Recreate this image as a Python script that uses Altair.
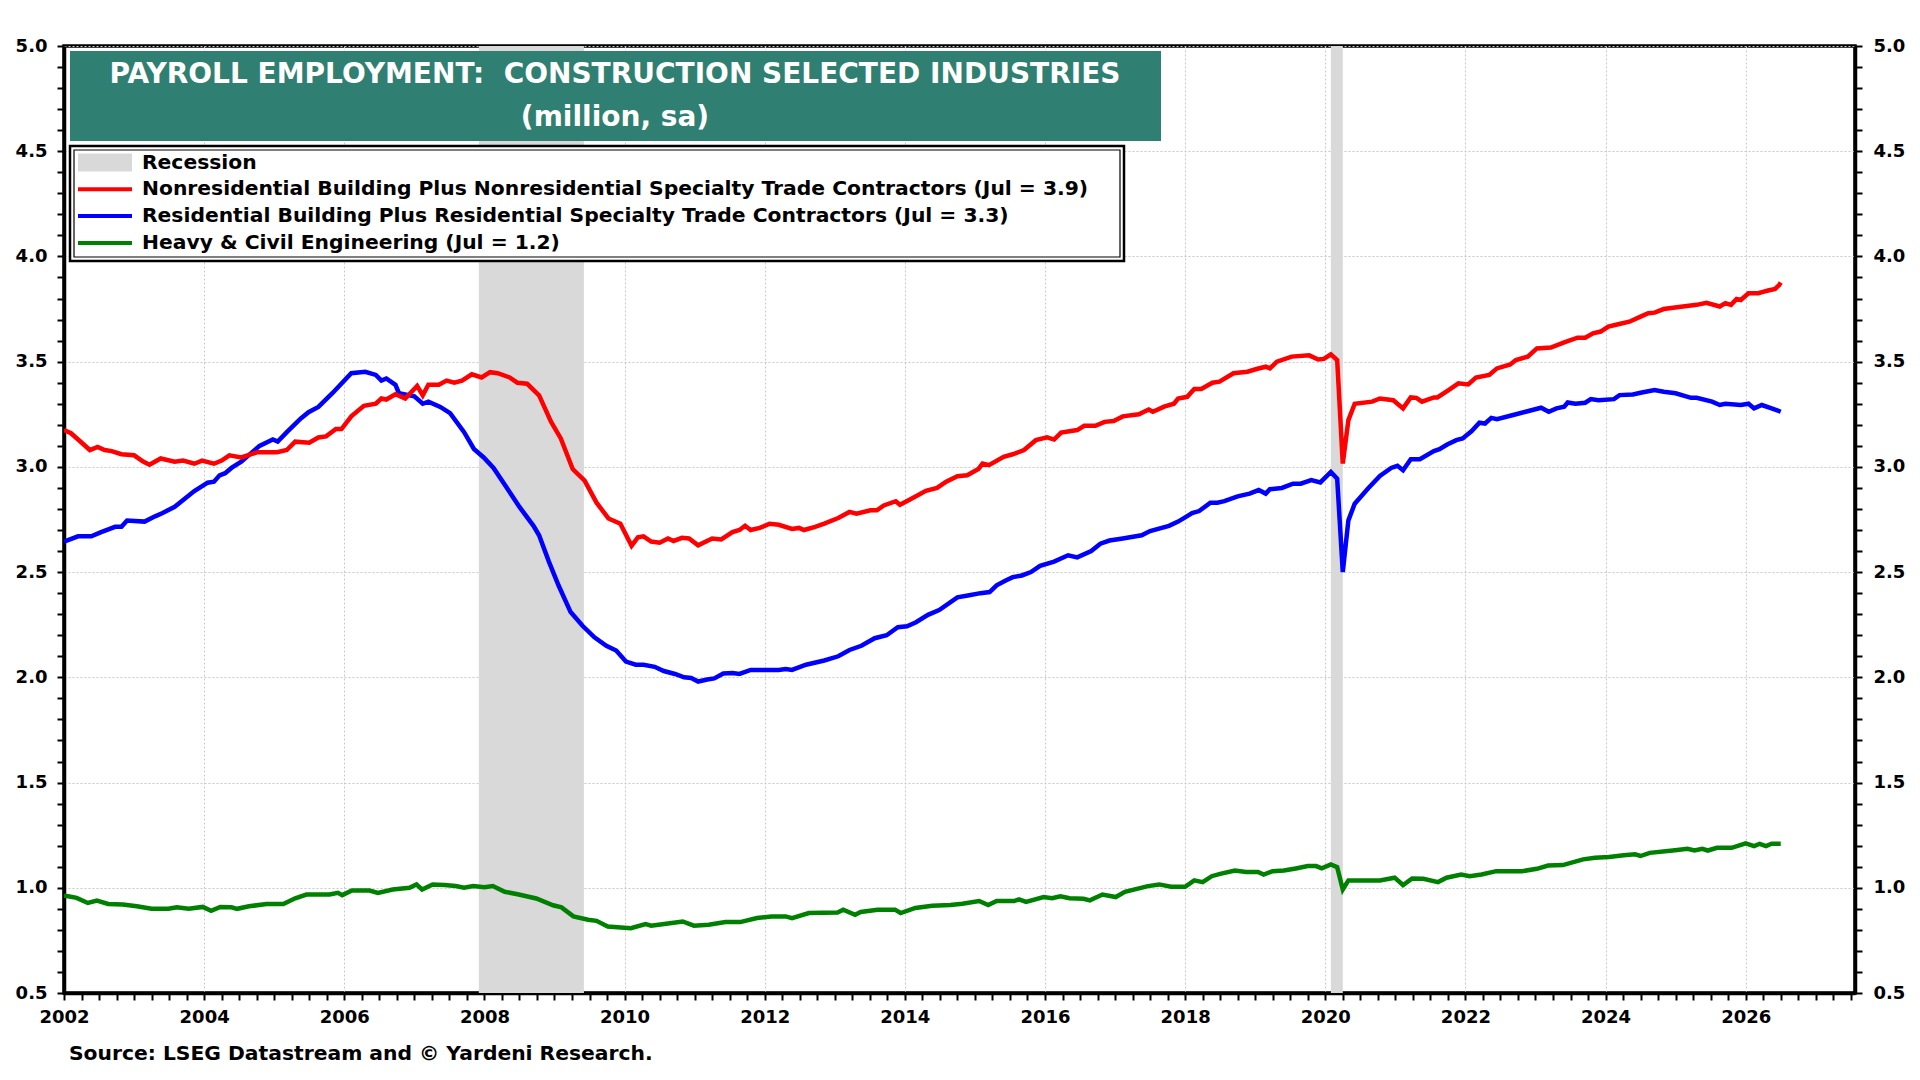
import altair as alt
import pandas as pd

# ---------------- data ----------------
red_x = [2002.0, 2002.1, 2002.37, 2002.48, 2002.58, 2002.68, 2002.82, 2003.0, 2003.13, 2003.22,
         2003.38, 2003.58, 2003.7, 2003.86, 2003.97, 2004.14, 2004.25, 2004.36, 2004.53, 2004.76,
         2005.04, 2005.18, 2005.3, 2005.5, 2005.63, 2005.74, 2005.88, 2005.96, 2006.1, 2006.28,
         2006.45, 2006.53, 2006.6, 2006.73, 2006.87, 2007.04, 2007.12, 2007.2, 2007.35, 2007.46,
         2007.57, 2007.68, 2007.82, 2007.96, 2008.08, 2008.19, 2008.36, 2008.47, 2008.61, 2008.78,
         2008.95, 2009.09, 2009.26, 2009.43, 2009.6, 2009.77, 2009.94, 2010.1, 2010.19, 2010.27,
         2010.38, 2010.5, 2010.62, 2010.7, 2010.82, 2010.92, 2011.05, 2011.25, 2011.38, 2011.54,
         2011.64, 2011.72, 2011.8, 2011.93, 2012.07, 2012.2, 2012.39, 2012.49, 2012.56, 2012.72,
         2012.85, 2013.05, 2013.21, 2013.31, 2013.51, 2013.6, 2013.7, 2013.87, 2013.93, 2014.1,
         2014.3, 2014.46, 2014.59, 2014.75, 2014.89, 2015.05, 2015.11, 2015.2, 2015.41, 2015.54,
         2015.7, 2015.87, 2016.03, 2016.13, 2016.23, 2016.46, 2016.56, 2016.72, 2016.85, 2016.98,
         2017.11, 2017.34, 2017.48, 2017.54, 2017.7, 2017.84, 2017.9, 2018.03, 2018.13, 2018.23,
         2018.39, 2018.49, 2018.69, 2018.89, 2019.02, 2019.15, 2019.21, 2019.31, 2019.52, 2019.77,
         2019.9, 2019.98, 2020.08, 2020.17, 2020.25, 2020.33, 2020.42, 2020.67, 2020.78, 2020.97,
         2021.11, 2021.22, 2021.3, 2021.38, 2021.55, 2021.6, 2021.76, 2021.9, 2022.04, 2022.15,
         2022.34, 2022.45, 2022.64, 2022.72, 2022.89, 2023.02, 2023.22, 2023.41, 2023.6, 2023.71,
         2023.82, 2023.93, 2024.04, 2024.18, 2024.34, 2024.5, 2024.61, 2024.7, 2024.83, 2025.02,
         2025.16, 2025.3, 2025.44, 2025.63, 2025.71, 2025.79, 2025.87, 2025.93, 2026.04, 2026.18,
         2026.26, 2026.32, 2026.42, 2026.48, 2026.5]
red_y = [3.175, 3.16, 3.08, 3.095, 3.08, 3.075, 3.06, 3.055, 3.025, 3.01,
         3.04, 3.025, 3.03, 3.015, 3.03, 3.015, 3.03, 3.055, 3.045, 3.07,
         3.07, 3.08, 3.12, 3.115, 3.14, 3.145, 3.18, 3.18, 3.24, 3.29,
         3.30, 3.325, 3.32, 3.345, 3.325, 3.385, 3.34, 3.39, 3.39, 3.41,
         3.40, 3.41, 3.44, 3.425, 3.45, 3.445, 3.425, 3.40, 3.395, 3.34,
         3.215, 3.135, 2.99, 2.935, 2.83, 2.755, 2.73, 2.625, 2.665, 2.67,
         2.645, 2.64, 2.66, 2.648, 2.663, 2.66, 2.627, 2.66, 2.655, 2.69,
         2.70, 2.72, 2.70, 2.71, 2.73, 2.725, 2.705, 2.71, 2.70, 2.715,
         2.73, 2.757, 2.786, 2.778, 2.794, 2.794, 2.817, 2.837, 2.82, 2.85,
         2.886, 2.90, 2.93, 2.956, 2.96, 2.99, 3.016, 3.008, 3.048, 3.06,
         3.08, 3.127, 3.14, 3.13, 3.163, 3.175, 3.195, 3.195, 3.214, 3.218,
         3.24, 3.25, 3.273, 3.262, 3.286, 3.30, 3.325, 3.333, 3.37, 3.37,
         3.40, 3.405, 3.445, 3.452, 3.465, 3.476, 3.468, 3.50, 3.524, 3.53,
         3.51, 3.513, 3.535, 3.508, 3.016, 3.222, 3.30, 3.31, 3.325, 3.317,
         3.278, 3.33, 3.328, 3.31, 3.33, 3.33, 3.365, 3.397, 3.392, 3.424,
         3.437, 3.468, 3.487, 3.508, 3.524, 3.563, 3.567, 3.592, 3.614, 3.614,
         3.635, 3.643, 3.667, 3.678, 3.69, 3.714, 3.73, 3.733, 3.75, 3.759,
         3.765, 3.77, 3.78, 3.762, 3.778, 3.77, 3.798, 3.793, 3.825, 3.825,
         3.833, 3.838, 3.846, 3.865, 3.876]

blue_x = [2002.0, 2002.2, 2002.39, 2002.53, 2002.73, 2002.82, 2002.9, 2003.15, 2003.3, 2003.4,
          2003.58, 2003.86, 2004.05, 2004.14, 2004.22, 2004.3, 2004.39, 2004.53, 2004.79, 2004.98,
          2005.05, 2005.18, 2005.38, 2005.49, 2005.63, 2005.83, 2006.1, 2006.3, 2006.45, 2006.53,
          2006.6, 2006.73, 2006.78, 2007.0, 2007.12, 2007.2, 2007.37, 2007.51, 2007.71, 2007.85,
          2007.99, 2008.13, 2008.3, 2008.5, 2008.7, 2008.78, 2008.92, 2009.06, 2009.23, 2009.4,
          2009.57, 2009.74, 2009.88, 2010.02, 2010.16, 2010.27, 2010.43, 2010.56, 2010.72, 2010.85,
          2010.95, 2011.05, 2011.18, 2011.28, 2011.41, 2011.54, 2011.64, 2011.8, 2012.2, 2012.3,
          2012.39, 2012.59, 2012.85, 2013.05, 2013.21, 2013.38, 2013.57, 2013.74, 2013.9, 2014.03,
          2014.16, 2014.33, 2014.49, 2014.75, 2014.92, 2015.08, 2015.21, 2015.31, 2015.44, 2015.54,
          2015.67, 2015.8, 2015.93, 2016.13, 2016.33, 2016.46, 2016.66, 2016.79, 2016.92, 2017.11,
          2017.38, 2017.5, 2017.77, 2017.9, 2018.0, 2018.1, 2018.2, 2018.36, 2018.46, 2018.56,
          2018.75, 2018.92, 2019.05, 2019.15, 2019.21, 2019.38, 2019.54, 2019.65, 2019.8, 2019.93,
          2020.08, 2020.17, 2020.25, 2020.33, 2020.42, 2020.61, 2020.78, 2020.94, 2021.03, 2021.11,
          2021.22, 2021.35, 2021.55, 2021.63, 2021.74, 2021.87, 2021.96, 2022.09, 2022.2, 2022.28,
          2022.37, 2022.45, 2022.64, 2022.86, 2023.08, 2023.19, 2023.3, 2023.41, 2023.46, 2023.57,
          2023.71, 2023.79, 2023.9, 2024.12, 2024.2, 2024.39, 2024.5, 2024.7, 2024.83, 2025.0,
          2025.22, 2025.3, 2025.52, 2025.63, 2025.71, 2025.93, 2026.04, 2026.12, 2026.23, 2026.37,
          2026.5]
blue_y = [2.645, 2.67, 2.67, 2.69, 2.715, 2.715, 2.745, 2.74, 2.765, 2.78,
          2.81, 2.885, 2.925, 2.93, 2.96, 2.97, 2.995, 3.025, 3.10, 3.13,
          3.12, 3.165, 3.23, 3.26, 3.285, 3.35, 3.445, 3.452, 3.437, 3.41,
          3.42, 3.39, 3.35, 3.335, 3.30, 3.31, 3.285, 3.255, 3.165, 3.085,
          3.045, 2.995, 2.91, 2.81, 2.72, 2.675, 2.55, 2.435, 2.31, 2.245,
          2.19, 2.15, 2.127, 2.075, 2.06, 2.06, 2.05, 2.03, 2.016, 2.0,
          1.997, 1.98, 1.99, 1.995, 2.018, 2.02, 2.016, 2.035, 2.035, 2.04,
          2.035, 2.06, 2.08, 2.10, 2.13, 2.15, 2.186, 2.20, 2.238, 2.243,
          2.262, 2.297, 2.32, 2.38, 2.39, 2.40, 2.405, 2.437, 2.46, 2.476,
          2.484, 2.50, 2.53, 2.55, 2.58, 2.57, 2.60, 2.635, 2.65, 2.66,
          2.675, 2.695, 2.72, 2.74, 2.76, 2.78, 2.79, 2.83, 2.83, 2.837,
          2.86, 2.873, 2.89, 2.873, 2.894, 2.90, 2.92, 2.92, 2.937, 2.926,
          2.976, 2.944, 2.50, 2.746, 2.825, 2.897, 2.957, 2.995, 3.005, 2.984,
          3.036, 3.036, 3.075, 3.084, 3.106, 3.127, 3.135, 3.17, 3.21, 3.206,
          3.233, 3.227, 3.243, 3.262, 3.281, 3.262, 3.278, 3.286, 3.306, 3.30,
          3.305, 3.322, 3.317, 3.322, 3.341, 3.344, 3.352, 3.365, 3.357, 3.35,
          3.328, 3.328, 3.31, 3.294, 3.30, 3.294, 3.30, 3.278, 3.294, 3.278,
          3.262]

green_x = [2002.0, 2002.06, 2002.18, 2002.34, 2002.47, 2002.63, 2002.84, 2003.04, 2003.25, 2003.49,
           2003.61, 2003.78, 2003.98, 2004.1, 2004.23, 2004.39, 2004.47, 2004.64, 2004.89, 2005.13,
           2005.3, 2005.46, 2005.79, 2005.91, 2005.97, 2006.11, 2006.36, 2006.48, 2006.69, 2006.93,
           2007.03, 2007.11, 2007.26, 2007.43, 2007.59, 2007.71, 2007.84, 2008.0, 2008.12, 2008.29,
           2008.49, 2008.74, 2008.98, 2009.1, 2009.27, 2009.48, 2009.6, 2009.76, 2010.09, 2010.3,
           2010.38, 2010.54, 2010.83, 2010.99, 2011.2, 2011.44, 2011.65, 2011.89, 2012.1, 2012.3,
           2012.39, 2012.63, 2013.04, 2013.12, 2013.29, 2013.37, 2013.61, 2013.86, 2013.94, 2014.15,
           2014.39, 2014.65, 2014.82, 2015.06, 2015.19, 2015.31, 2015.56, 2015.63, 2015.73, 2015.98,
           2016.1, 2016.22, 2016.35, 2016.55, 2016.64, 2016.82, 2017.01, 2017.14, 2017.47, 2017.63,
           2017.8, 2018.0, 2018.13, 2018.25, 2018.38, 2018.5, 2018.71, 2018.87, 2019.04, 2019.12,
           2019.25, 2019.41, 2019.58, 2019.75, 2019.87, 2019.95, 2020.08, 2020.17, 2020.25, 2020.33,
           2020.61, 2020.78, 2020.99, 2021.11, 2021.24, 2021.4, 2021.61, 2021.73, 2021.94, 2022.06,
           2022.23, 2022.44, 2022.81, 2023.02, 2023.18, 2023.39, 2023.68, 2023.85, 2024.05, 2024.26,
           2024.42, 2024.5, 2024.63, 2024.96, 2025.17, 2025.27, 2025.38, 2025.46, 2025.59, 2025.8,
           2026.0, 2026.12, 2026.2, 2026.29, 2026.37, 2026.5]
green_y = [0.962, 0.96, 0.952, 0.928, 0.939, 0.923, 0.92, 0.912, 0.90, 0.90,
           0.907, 0.90, 0.909, 0.891, 0.909, 0.907, 0.90, 0.912, 0.923, 0.923,
           0.95, 0.968, 0.968, 0.976, 0.965, 0.987, 0.987, 0.976, 0.992, 1.0,
           1.016, 0.992, 1.016, 1.013, 1.008, 1.0, 1.008, 1.003, 1.008, 0.981,
           0.968, 0.949, 0.917, 0.907, 0.864, 0.848, 0.843, 0.816, 0.808, 0.827,
           0.82, 0.827, 0.84, 0.82, 0.824, 0.837, 0.837, 0.856, 0.864, 0.864,
           0.856, 0.88, 0.883, 0.896, 0.872, 0.885, 0.896, 0.896, 0.88, 0.904,
           0.915, 0.918, 0.924, 0.937, 0.918, 0.937, 0.937, 0.945, 0.933, 0.956,
           0.95, 0.96, 0.95, 0.948, 0.94, 0.968, 0.956, 0.981, 1.008, 1.016,
           1.005, 1.005, 1.035, 1.027, 1.055, 1.066, 1.082, 1.075, 1.075, 1.063,
           1.079, 1.082, 1.092, 1.103, 1.103, 1.092, 1.111, 1.098, 0.992, 1.035,
           1.035, 1.035, 1.048, 1.013, 1.044, 1.043, 1.027, 1.048, 1.063, 1.055,
           1.063, 1.079, 1.079, 1.09, 1.106, 1.108, 1.135, 1.143, 1.146, 1.155,
           1.159, 1.151, 1.166, 1.177, 1.185, 1.177, 1.185, 1.177, 1.19, 1.19,
           1.211, 1.198, 1.209, 1.198, 1.209, 1.209]

series_names = [
    "Nonresidential Building Plus Nonresidential Specialty Trade Contractors (Jul = 3.9)",
    "Residential Building Plus Residential Specialty Trade Contractors (Jul = 3.3)",
    "Heavy & Civil Engineering (Jul = 1.2)",
]
series_colors = ["#ff0000", "#0000ff", "#008000"]

recession_start = [2007.92, 2020.08]
recession_end = [2009.42, 2020.25]

title_lines = ["PAYROLL EMPLOYMENT:\u00a0 CONSTRUCTION SELECTED INDUSTRIES", "(million, sa)"]
source_text = "Source: LSEG Datastream and \u00a9 Yardeni Research."

x_ticks = [2002 + 0.25 * i for i in range(0, 103)]
y_ticks = [round(0.5 + 0.1 * i, 1) for i in range(0, 46)]

# ---------------- layout / style ----------------
W, H = 1791, 947
FONT = "DejaVu Sans"
X_DOMAIN = [2002, 2027.56]
Y_DOMAIN = [0.5, 5.0]

frames = []
for name, xs, ys in [(series_names[2], green_x, green_y),
                     (series_names[1], blue_x, blue_y),
                     (series_names[0], red_x, red_y)]:
    frames.append(pd.DataFrame({"t": xs, "v": ys, "series": name}))
lines_df = pd.concat(frames, ignore_index=True)

rec_df = pd.DataFrame({"t": recession_start, "t2": recession_end})

major_test_x = "datum.value % 2 == 0"
major_test_y = "abs(datum.value * 2 - round(datum.value * 2)) < 0.001"

x_axis = alt.Axis(
    values=x_ticks,
    labelExpr=f"{major_test_x} ? format(datum.value, 'd') : ''",
    grid=True,
    gridOpacity={"condition": {"test": major_test_x, "value": 1}, "value": 0},
    gridColor="#c8c8c8", gridDash=[2, 2], gridWidth=1,
    labelOverlap=False, labelFlush=False, labelPadding=8,
    title=None,
)
x_enc = alt.X("t:Q", scale=alt.Scale(domain=X_DOMAIN, nice=False, zero=False), axis=x_axis)

y_left_axis = alt.Axis(
    values=y_ticks, orient="left",
    labelExpr=f"{major_test_y} ? format(datum.value, '.1f') : ''",
    grid=True,
    gridOpacity={"condition": {"test": major_test_y, "value": 1}, "value": 0},
    gridColor="#c8c8c8", gridDash=[2, 2], gridWidth=1,
    labelOverlap=False, labelPadding=10, title=None,
)
y_right_axis = alt.Axis(
    values=y_ticks, orient="right",
    labelExpr=f"{major_test_y} ? format(datum.value, '.1f') : ''",
    grid=False, labelOverlap=False, labelPadding=11, title=None,
)

recession = alt.Chart(rec_df).mark_rect(color="#d9d9d9").encode(
    x=x_enc, x2="t2:Q", y=alt.value(0), y2=alt.value(H)
)

lines = alt.Chart(lines_df).mark_line(strokeWidth=4.5, clip=True).encode(
    x=x_enc,
    y=alt.Y("v:Q", scale=alt.Scale(domain=Y_DOMAIN, nice=False, zero=False), axis=y_left_axis),
    color=alt.Color("series:N", scale=alt.Scale(domain=series_names, range=series_colors), legend=None),
    detail="series:N",
    order=alt.Order("t:Q"),
)

right_axis_layer = alt.Chart(lines_df).mark_line(opacity=0).encode(
    x=x_enc,
    y=alt.Y("v:Q", scale=alt.Scale(domain=Y_DOMAIN, nice=False, zero=False), axis=y_right_axis),
    detail="series:N",
)

# title box
title_box = alt.Chart(pd.DataFrame({"k": [0]})).mark_rect(color="#2f7f72").encode(
    x=alt.value(6), x2=alt.value(1097), y=alt.value(5), y2=alt.value(95)
)
title_layers = []
for i, line in enumerate(title_lines):
    title_layers.append(
        alt.Chart(pd.DataFrame({"txt": [line]})).mark_text(
            font=FONT, fontWeight="bold", fontSize=28, color="white",
            align="center", baseline="middle"
        ).encode(text="txt:N", x=alt.value(551), y=alt.value([29, 72][i]))
    )

# legend box (double border)
legend_outer = alt.Chart(pd.DataFrame({"k": [0]})).mark_rect(
    fill="white", stroke="black", strokeWidth=2.5
).encode(x=alt.value(6), x2=alt.value(1060), y=alt.value(100), y2=alt.value(215))
legend_inner = alt.Chart(pd.DataFrame({"k": [0]})).mark_rect(
    fill="white", fillOpacity=0, stroke="black", strokeWidth=1.2
).encode(x=alt.value(10), x2=alt.value(1056), y=alt.value(104), y2=alt.value(211))

legend_layers = []
row_y = [116.5, 143.3, 170, 197]
legend_labels = ["Recession"] + series_names
legend_layers.append(
    alt.Chart(pd.DataFrame({"k": [0]})).mark_rect(color="#d9d9d9").encode(
        x=alt.value(14), x2=alt.value(68), y=alt.value(107.5), y2=alt.value(125.5)
    )
)
for i, col in enumerate(series_colors):
    legend_layers.append(
        alt.Chart(pd.DataFrame({"k": [0]})).mark_rule(color=col, strokeWidth=4).encode(
            x=alt.value(14), x2=alt.value(68), y=alt.value(row_y[i + 1])
        )
    )
for i, lab in enumerate(legend_labels):
    legend_layers.append(
        alt.Chart(pd.DataFrame({"txt": [lab]})).mark_text(
            font=FONT, fontWeight="bold", fontSize=20.3, color="black",
            align="left", baseline="middle"
        ).encode(text="txt:N", x=alt.value(78), y=alt.value(row_y[i]))
    )

source = alt.Chart(pd.DataFrame({"txt": [source_text]})).mark_text(
    font=FONT, fontWeight="bold", fontSize=20.3, color="black", align="left", baseline="middle"
).encode(text="txt:N", x=alt.value(5), y=alt.value(1008))

chart = alt.layer(
    recession, lines, right_axis_layer, title_box, *title_layers,
    legend_outer, legend_inner, *legend_layers, source
).resolve_scale(y="independent").properties(
    width=W, height=H,
    autosize=alt.AutoSizeParams(type="none"),
    padding={"left": 56, "top": 38, "right": 56, "bottom": 74},
    background="white",
).configure_view(
    stroke="black", strokeWidth=3.5
).configure_axis(
    domainColor="black", domainWidth=3.5,
    tickColor="black", tickWidth=2, tickSize=7,
    labelFont=FONT, labelFontWeight="bold", labelFontSize=18, labelColor="black",
)

chart.save("out.html", embed_options={"renderer": "svg", "actions": False})
